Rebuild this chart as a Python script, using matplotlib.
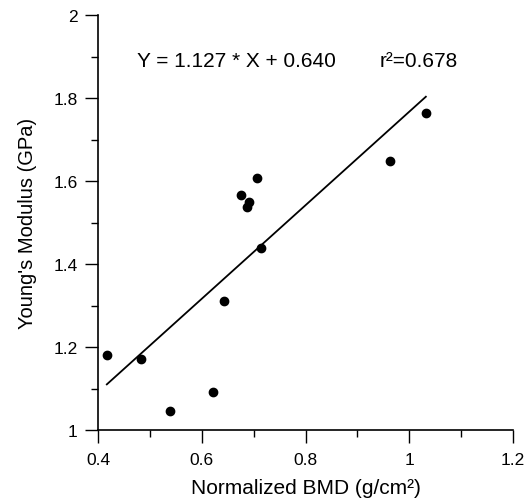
import numpy as np
import matplotlib
matplotlib.use('Agg')
import matplotlib.pyplot as plt
from matplotlib.ticker import MultipleLocator

plt.rcParams['font.family'] = ['Liberation Sans', 'DejaVu Sans']

# normalized BMD vs Young's modulus
bmd = [0.417, 0.483, 0.539, 0.622, 0.642, 0.676, 0.687, 0.692, 0.706, 0.714, 0.962, 1.032]
modulus = [1.180, 1.170, 1.046, 1.092, 1.312, 1.567, 1.537, 1.549, 1.607, 1.439, 1.648, 1.763]

slope = 1.127
intercept = 0.640
r2 = 0.678

fig = plt.figure(figsize=(5.32, 5.02), dpi=100)
ax = fig.add_axes([98 / 532, 71 / 502, 415 / 532, 415 / 502])

ax.scatter(bmd, modulus, s=36, color='black', zorder=3)

# fit line across the data range
xfit = np.array([min(bmd), max(bmd)])
ax.plot(xfit, slope * xfit + intercept, color='black', linewidth=1.3)

ax.text(0.475, 1.89, 'Y = %.3f * X + %.3f' % (slope, intercept), fontsize=15, va='center')
ax.text(0.942, 1.89, 'r\u00b2=%.3f' % r2, fontsize=15, va='center')

ax.set_xlim(0.4, 1.2)
ax.set_ylim(1, 2)
ax.xaxis.set_minor_locator(MultipleLocator(0.1))
ax.yaxis.set_minor_locator(MultipleLocator(0.1))
ax.set_yticks([1, 1.2, 1.4, 1.6, 1.8, 2])
ax.set_yticklabels(['1', '1.2', '1.4', '1.6', '1.8', '2'])
ax.set_xticks([0.4, 0.6, 0.8, 1.0, 1.2])
ax.set_xticklabels(['0.4', '0.6', '0.8', '1', '1.2'])

ax.spines['top'].set_visible(False)
ax.spines['right'].set_visible(False)
for s in ['left', 'bottom']:
    ax.spines[s].set_linewidth(1.2)

ax.tick_params(which='major', direction='out', length=9.5, width=1, labelsize=12.5, pad=5)
ax.tick_params(which='minor', direction='out', length=5, width=1)
ax.tick_params(axis='x', which='major', pad=6)

ax.set_xlabel('Normalized BMD (g/cm\u00b2)', fontsize=15, labelpad=8)
ax.set_ylabel("Young's Modulus (GPa)", fontsize=14.5, labelpad=12)

fig.savefig('out.png', dpi=100)
